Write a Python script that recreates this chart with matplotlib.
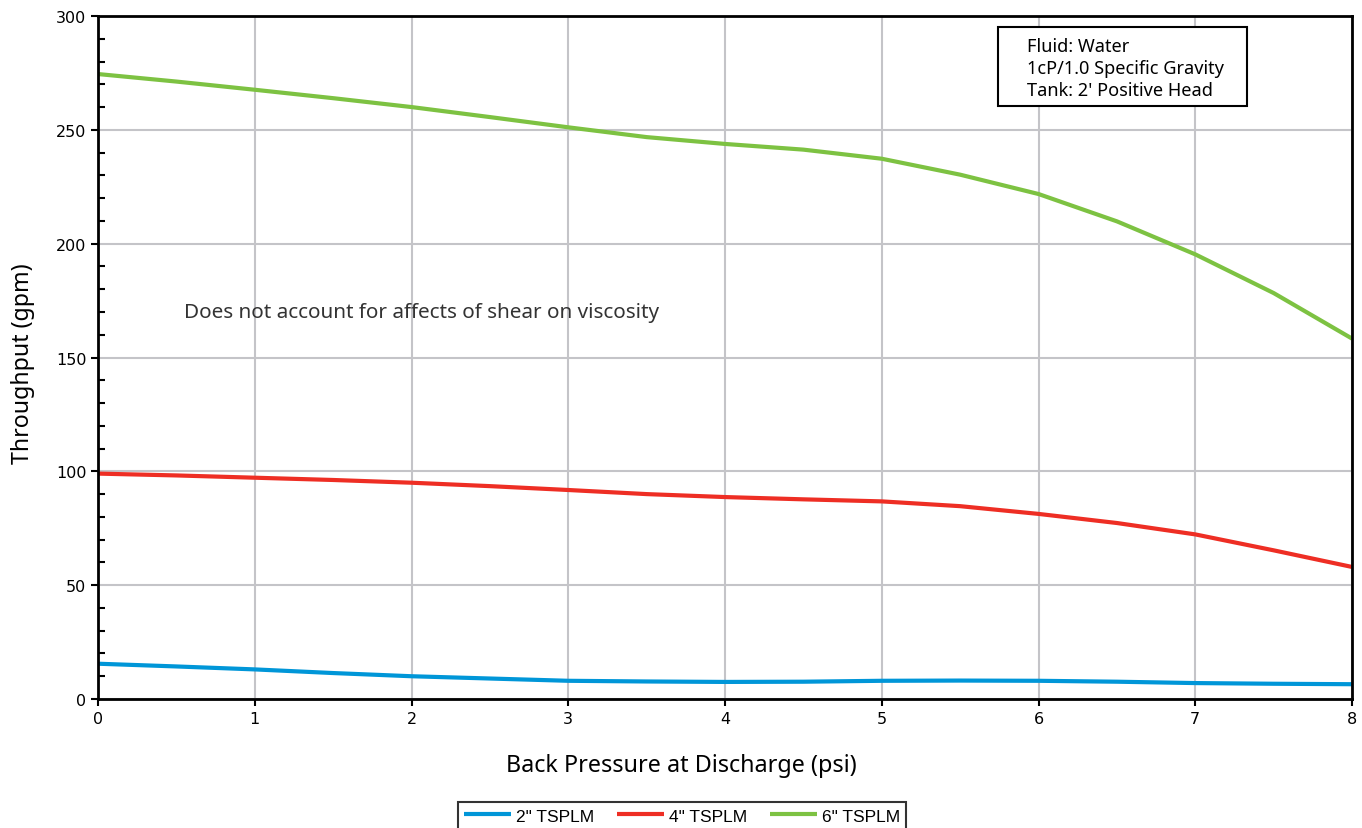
import matplotlib
matplotlib.use("Agg")
import matplotlib.pyplot as plt
from matplotlib.ticker import MultipleLocator
from matplotlib.patches import Rectangle

# back pressure (psi) and throughput (gpm)
pressure = [0, 0.5, 1, 1.5, 2, 2.5, 3, 3.5, 4, 4.5, 5, 5.5, 6, 6.5, 7, 7.5, 8]
tsplm_2 = [15.5, 14.3, 13, 11.4, 10, 9, 8, 7.7, 7.5, 7.6, 8, 8.1, 8, 7.6, 7, 6.7, 6.5]
tsplm_4 = [99, 98.2, 97.2, 96.2, 95, 93.5, 91.8, 90, 88.7, 87.7, 86.8, 84.7, 81.3, 77.3, 72.3, 65.3, 58]
tsplm_6 = [274.5, 271.2, 267.6, 263.9, 260, 255.6, 251.1, 246.8, 243.8, 241.3, 237.3, 230.3, 221.8, 209.8, 195.3, 178.3, 158.3]

series_names = ['2" TSPLM', '4" TSPLM', '6" TSPLM']
series_colors = ["#0096d8", "#ee2e24", "#7dc242"]

info_text = "Fluid: Water\n1cP/1.0 Specific Gravity\nTank: 2' Positive Head"
note_text = "Does not account for affects of shear on viscosity"

fig = plt.figure(figsize=(13.62, 8.29), dpi=100)
ax = fig.add_axes([0.072, 0.1556, 0.9207, 0.8239])

for vals, name, col in zip([tsplm_2, tsplm_4, tsplm_6], series_names, series_colors):
    ax.plot(pressure, vals, color=col, lw=3, label=name, solid_capstyle="butt")

ax.set_xlim(0, 8)
ax.set_ylim(0, 300)
ax.xaxis.set_major_locator(MultipleLocator(1))
ax.yaxis.set_major_locator(MultipleLocator(50))
ax.yaxis.set_minor_locator(MultipleLocator(10))
ax.grid(True, which="major", color="#c4c4c8", lw=1.5)
ax.set_axisbelow(True)
ax.tick_params(axis="both", which="major", length=5, width=1.5, labelsize=11.5, direction="out")
ax.tick_params(axis="y", which="minor", length=5, width=1.5, direction="in")
for s in ax.spines.values():
    s.set_linewidth(2)
    s.set_color("black")

ax.set_xlabel("Back Pressure at Discharge (psi)", family="Noto Sans", fontsize=16.8)
ax.xaxis.set_label_coords(0.465, -0.0966)
ax.xaxis.label.set_verticalalignment("center")
ax.set_ylabel("Throughput (gpm)", family="Noto Sans", fontsize=16.6)
ax.yaxis.set_label_coords(-0.0598, 0.493)
ax.yaxis.label.set_verticalalignment("center")

ax.text(0.55, 170, note_text, family="Noto Sans", fontsize=14.9, color="#333333", va="center")

# info box top right
fig.patches.append(Rectangle((0.7327, 0.8709), 0.1828, 0.0953, transform=fig.transFigure,
                             fc="white", ec="black", lw=1.5, zorder=5))
fig.text(0.754, 0.9168, info_text, family="Noto Sans", fontsize=13.1, va="center", ha="left",
         linespacing=1.3, zorder=6)

leg = fig.legend(loc="center", bbox_to_anchor=(0.5007, 0.0145), ncol=3, frameon=True,
                 fancybox=False, edgecolor="black", prop={"family": "Liberation Sans", "size": 12.5},
                 handlelength=2.7, columnspacing=1.3, handletextpad=0.3, borderpad=0.35)
leg.get_frame().set_linewidth(1.5)

fig.savefig("out.png", dpi=100)
